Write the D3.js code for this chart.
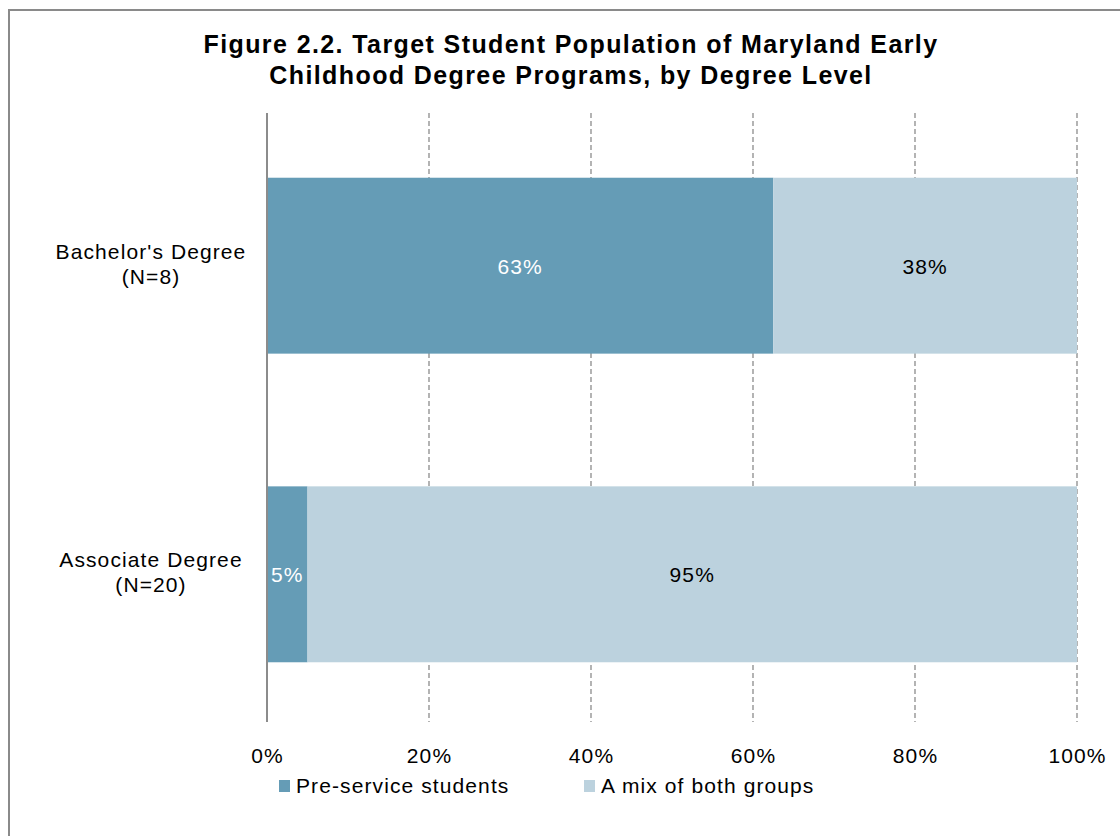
<!DOCTYPE html>
<html><head><meta charset="utf-8">
<script src="https://cdn.jsdelivr.net/npm/d3@7"></script>
<style>body{margin:0;background:#fff}svg{display:block}text{font-family:"Liberation Sans",Arial,sans-serif}</style>
</head><body>
<svg id="c" width="1120" height="836"></svg>
<script>
const categories = ["Bachelor's Degree|(N=8)", "Associate Degree|(N=20)"];
const seriesNames = ["Pre-service students", "A mix of both groups"];
const preService = [62.5, 5];
const mixBoth = [37.5, 95];
const tickValues = [0, 20, 40, 60, 80, 100];
const colors = ["#659cb6", "#bcd2de"];
const titleLines = ["Figure 2.2. Target Student Population of Maryland Early", "Childhood Degree Programs, by Degree Level"];

const svg = d3.select("#c");
svg.append("rect").attr("x", 9).attr("y", 10).attr("width", 1130).attr("height", 850)
  .attr("fill", "none").attr("stroke", "#8a8a8a").attr("stroke-width", 2);

const x = d3.scaleLinear().domain([0, 100]).range([267, 1077]);
const y = d3.scaleBand().domain(categories).range([116, 724]).paddingInner(0.43).paddingOuter(0.2);

const LS = "1.1px";

// gridlines
svg.append("g").selectAll("line").data(tickValues.slice(1)).join("line")
  .attr("x1", d => x(d)).attr("x2", d => x(d)).attr("y1", 113).attr("y2", 722)
  .attr("stroke", "#8c8c8c").attr("stroke-width", 1.3).attr("stroke-dasharray", "5,3");

const data = categories.map((c, i) => ({c, v: [preService[i], mixBoth[i]]}));
const g = svg.append("g");
data.forEach(d => {
  let acc = 0;
  d.v.forEach((v, j) => {
    g.append("rect").attr("x", x(acc)).attr("width", x(acc + v) - x(acc))
      .attr("y", y(d.c)).attr("height", y.bandwidth()).attr("fill", colors[j]);
    g.append("text").attr("x", (x(acc) + x(acc + v)) / 2).attr("y", y(d.c) + y.bandwidth() / 2 + 8)
      .attr("text-anchor", "middle").attr("font-size", 21).attr("letter-spacing", LS)
      .attr("fill", j === 0 ? "#ffffff" : "#000000").text(Math.round(v) + "%");
    acc += v;
  });
});

// axis line
svg.append("line").attr("x1", 267).attr("x2", 267).attr("y1", 113).attr("y2", 722)
  .attr("stroke", "#8c8c8c").attr("stroke-width", 2);

// x tick labels
const xAxis = d3.axisBottom(x).tickValues(tickValues).tickFormat(d => d + "%").tickSize(0).tickPadding(0);
const xg = svg.append("g").attr("transform", "translate(0,748)").call(xAxis);
xg.select(".domain").remove();
xg.selectAll("text").attr("font-size", 21).attr("letter-spacing", LS).attr("fill", "#000")
  .attr("font-family", "Liberation Sans, Arial, sans-serif");

// category labels
data.forEach(d => {
  const parts = d.c.split("|");
  const cy = y(d.c) + y.bandwidth() / 2;
  const t = svg.append("text").attr("text-anchor", "middle").attr("font-size", 21)
    .attr("letter-spacing", LS).attr("fill", "#000");
  t.append("tspan").attr("x", 151).attr("y", cy - 7).text(parts[0]);
  t.append("tspan").attr("x", 151).attr("y", cy + 18).text(parts[1]);
});

// title
const tt = svg.append("text").attr("text-anchor", "middle").attr("font-size", 25)
  .attr("font-weight", "bold").attr("letter-spacing", "1.4px").attr("fill", "#000");
titleLines.forEach((l, i) => tt.append("tspan").attr("x", 571).attr("y", 53 + i * 31).text(l));

// legend
const legX = [279, 584];
seriesNames.forEach((s, i) => {
  svg.append("rect").attr("x", legX[i]).attr("y", 780).attr("width", 11).attr("height", 12).attr("fill", colors[i]);
  svg.append("text").attr("x", legX[i] + 17).attr("y", 793).attr("font-size", 21)
    .attr("letter-spacing", LS).attr("fill", "#000").text(s);
});
</script>
</body></html>
